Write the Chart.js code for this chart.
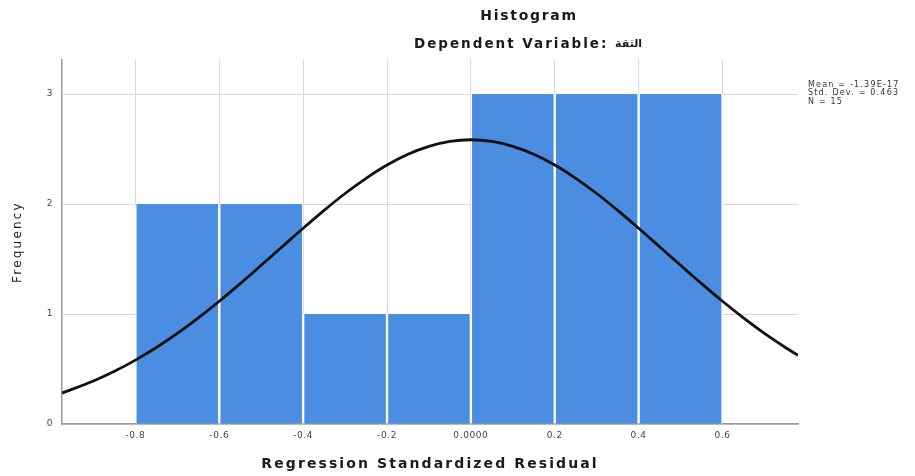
<!DOCTYPE html>
<html>
<head>
<meta charset="utf-8">
<script src="https://cdn.jsdelivr.net/npm/chart.js@4/dist/chart.umd.min.js"></script>
<style>
  html, body { margin: 0; padding: 0; background: #ffffff; }
  #wrap { width: 915px; height: 476px; position: relative; }
</style>
</head>
<body>
<div id="wrap"><canvas id="chart" width="915" height="476"></canvas></div>
<script>
// Histogram of regression standardized residuals (bin width 0.2)
const binCenters = [-0.7, -0.5, -0.3, -0.1, 0.1, 0.3, 0.5];
const frequencies = [2, 2, 1, 1, 3, 3, 3];

// Fitted normal curve, sampled along the residual axis
const curveX = [-0.975, -0.9, -0.85, -0.8, -0.75, -0.7, -0.65, -0.6, -0.55, -0.5, -0.45, -0.4, -0.35, -0.3, -0.25, -0.2, -0.15, -0.1, -0.05, 0,
                0.05, 0.1, 0.15, 0.2, 0.25, 0.3, 0.35, 0.4, 0.45, 0.5, 0.55, 0.6, 0.65, 0.7, 0.75, 0.78];
const curveY = [0.281, 0.391, 0.479, 0.581, 0.696, 0.824, 0.965, 1.116, 1.276, 1.443, 1.612, 1.780, 1.943, 2.096, 2.234, 2.355, 2.453, 2.525, 2.570, 2.585,
                2.570, 2.525, 2.453, 2.355, 2.234, 2.096, 1.943, 1.780, 1.612, 1.443, 1.276, 1.116, 0.965, 0.824, 0.696, 0.625];

const xTickValues = [-0.8, -0.6, -0.4, -0.2, 0, 0.2, 0.4, 0.6];
const xTickLabels = ['-0.8', '-0.6', '-0.4', '-0.2', '0.0000', '0.2', '0.4', '0.6'];
const yTickValues = [0, 1, 2, 3];

const chartTitle = 'Histogram';
const subtitleText = 'Dependent Variable: ';
const subtitleVar = 'الثقة';
const xTitle = 'Regression Standardized Residual';
const yTitle = 'Frequency';
const statsLines = ['Mean = -1.39E-17', 'Std. Dev. = 0.463', 'N = 15'];

const barData = binCenters.map((x, i) => ({ x: x, y: frequencies[i] }));
const curveData = curveX.map((x, i) => ({ x: x, y: curveY[i] }));

function spacedText(ctx, text, x, y, spacing, align) {
  ctx.letterSpacing = spacing + 'px';
  ctx.textAlign = align || 'left';
  ctx.fillText(text, x, y);
  ctx.letterSpacing = '0px';
}

const textPlugin = {
  id: 'histText',
  beforeDraw(chart) {
    chart.ctx.letterSpacing = '0.6px';
  },
  afterDraw(chart) {
    const ctx = chart.ctx;
    const area = chart.chartArea;
    ctx.save();
    ctx.letterSpacing = '0px';
    ctx.fillStyle = '#1a1a1a';
    ctx.textBaseline = 'middle';

    // Main title
    ctx.font = 'bold 14px "DejaVu Sans"';
    spacedText(ctx, chartTitle, 529, 16.5, 1.7, 'center');

    // Subtitle with the dependent variable name
    ctx.font = 'bold 13.5px "DejaVu Sans"';
    ctx.letterSpacing = '2px';
    const leftW = ctx.measureText(subtitleText).width;
    ctx.letterSpacing = '0px';
    ctx.font = 'bold 11px "DejaVu Sans"';
    const varW = ctx.measureText(subtitleVar).width;
    const subStart = 528 - (leftW + varW) / 2;
    ctx.font = 'bold 13.5px "DejaVu Sans"';
    spacedText(ctx, subtitleText, subStart, 44, 2, 'left');
    ctx.font = 'bold 11px "DejaVu Sans"';
    ctx.direction = 'rtl';
    ctx.textAlign = 'right';
    ctx.fillText(subtitleVar, subStart + leftW + varW, 44);
    ctx.direction = 'ltr';

    // Axis titles
    ctx.font = 'bold 14px "DejaVu Sans"';
    spacedText(ctx, xTitle, (area.left + area.right) / 2, 464, 2.1, 'center');

    ctx.save();
    ctx.translate(18, (area.top + area.bottom) / 2);
    ctx.rotate(-Math.PI / 2);
    ctx.font = '12px "DejaVu Sans"';
    spacedText(ctx, yTitle, 0, 0, 2.2, 'center');
    ctx.restore();

    // Summary statistics
    ctx.font = '8px "DejaVu Sans"';
    ctx.fillStyle = '#333333';
    statsLines.forEach((line, i) => {
      spacedText(ctx, line, 808, 85 + i * 8.3, 1.2, 'left');
    });
    ctx.restore();
    ctx.letterSpacing = '0px';
  }
};

new Chart(document.getElementById('chart'), {
  type: 'bar',
  data: {
    datasets: [
      {
        type: 'line',
        data: curveData,
        borderColor: '#111111',
        borderWidth: 2.8,
        pointRadius: 0,
        cubicInterpolationMode: 'monotone',
        fill: false,
        order: 0
      },
      {
        type: 'bar',
        data: barData,
        backgroundColor: '#4b8de0',
        borderColor: '#ffffff',
        borderWidth: { left: 1.5, right: 1.5, top: 0, bottom: 0 },
        borderSkipped: false,
        barPercentage: 1,
        categoryPercentage: 1,
        order: 1
      }
    ]
  },
  plugins: [textPlugin],
  options: {
    responsive: false,
    animation: false,
    events: [],
    layout: { padding: { top: 60, right: 117, bottom: 0, left: 0 } },
    plugins: {
      legend: { display: false },
      title: { display: false },
      tooltip: { enabled: false }
    },
    scales: {
      x: {
        type: 'linear',
        offset: false,
        min: -0.975,
        max: 0.78,
        afterBuildTicks(scale) { scale.ticks = xTickValues.map(v => ({ value: v })); },
        afterFit(scale) { scale.height = 52; },
        ticks: {
          autoSkip: false,
          maxRotation: 0,
          padding: 6,
          color: '#444444',
          font: { family: '"DejaVu Sans"', size: 9 },
          callback(value) {
            const i = xTickValues.findIndex(v => Math.abs(v - value) < 1e-9);
            return i >= 0 ? xTickLabels[i] : '';
          }
        },
        grid: { offset: false, color: '#d6d6d6', lineWidth: 1, drawTicks: false },
        border: { color: '#9a9a9a', width: 1.5 }
      },
      y: {
        type: 'linear',
        min: 0,
        max: 3.31,
        afterBuildTicks(scale) { scale.ticks = yTickValues.map(v => ({ value: v })); },
        afterFit(scale) { scale.width = 62; },
        ticks: {
          padding: 9,
          color: '#444444',
          font: { family: '"DejaVu Sans"', size: 9 }
        },
        grid: { color: '#d6d6d6', lineWidth: 1, drawTicks: false },
        border: { color: '#9a9a9a', width: 1.5 }
      }
    }
  }
});
</script>
</body>
</html>
